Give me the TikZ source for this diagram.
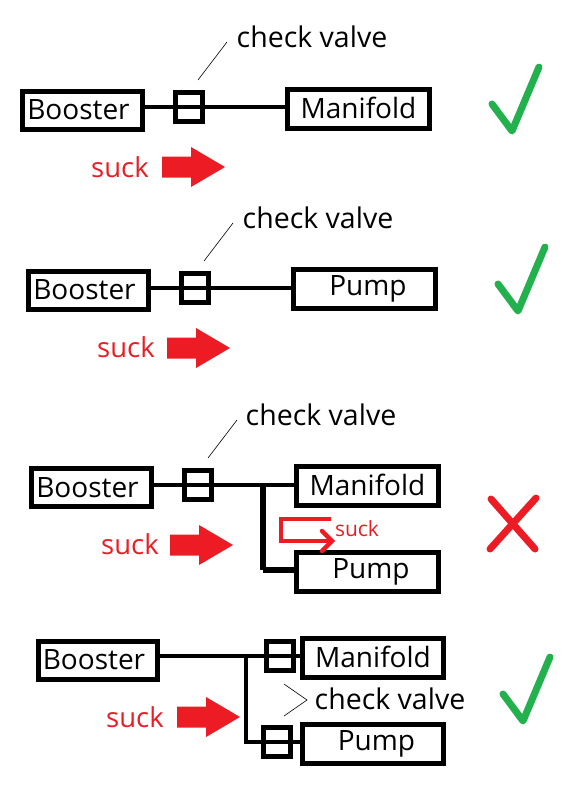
\documentclass[tikz,border=0pt]{standalone}
\usepackage{fontspec}
\setmainfont{Open Sans}
\definecolor{rd}{RGB}{237,28,36}
\definecolor{gn}{RGB}{34,177,76}
\tikzset{
 x=1pt,y=-1pt,
 boxn/.style={draw=black,line width=5pt,inner sep=0pt,font=\fontsize{28}{28}\selectfont},
 valven/.style={draw=black,line width=5pt,inner sep=0pt,minimum width=27pt,minimum height=29pt},
 pipe/.style={draw=black,line width=4.5pt},
 thin leader/.style={draw=black,line width=0.6pt},
 lab/.style={inner sep=0pt,font=\fontsize{28.5}{28.5}\selectfont},
 sucklab/.style={inner sep=0pt,text=rd,font=\fontsize{27.5}{27.5}\selectfont},
 bigarrow/.style={fill=rd,draw=none},
 tick/.style={draw=gn,line width=7pt,line cap=round,line join=round},
 cross/.style={draw=rd,line width=7pt,line cap=round},
}
\newcommand{\bx}[6]{\node[boxn,minimum width=#4 pt-3.5pt,minimum height=#5 pt-4pt] (#1) at (#2,#3) {\raisebox{1pt}{#6}};}
\newcommand{\arr}[2]{\fill[bigarrow] (#1,#2-10.5) -- (#1+29,#2-10.5) -- (#1+29,#2-20) -- (#1+63,#2) -- (#1+29,#2+20) -- (#1+29,#2+10.5) -- (#1,#2+10.5) -- cycle;}
\newcommand{\tk}[2]{\draw[tick] (#1,#2) -- (#1+20,#2+27) -- (#1+47,#2-37);}
\newcommand{\bst}{Booster\hspace*{8pt}}
\newcommand{\pmp}{\hspace*{7pt}Pump}
\begin{document}
\begin{tikzpicture}
\useasboundingbox (0,0) rectangle (574,798);
% panel 1
\bx{b1}{82.5}{110}{123}{42}{\bst}
\node[valven] (v1) at (188.5,107) {};
\bx{m1}{358.5}{108.5}{145}{43}{Manifold}
\draw[pipe] (b1.east |- v1.center) -- (m1.west |- v1.center);
\node[lab] (t1) at (312,37) {check valve};
\coordinate (l1) at (198,80);
\draw[thin leader] (l1) -- (227,42);
\node[sucklab] (s1) at (120,167) {suck};
\arr{162}{167}
\tk{492}{104}
% panel 2
\bx{b2}{88.5}{290.5}{123}{42}{\bst}
\node[valven] (v2) at (194.5,288) {};
\bx{p2}{364.5}{288.5}{145}{43}{\pmp}
\draw[pipe] (b2.east |- v2.center) -- (p2.west |- v2.center);
\node[lab] (t2) at (318,218) {check valve};
\coordinate (l2) at (204,261);
\draw[thin leader] (l2) -- (233,223);
\node[sucklab] (s2) at (126,347) {suck};
\arr{167}{348}
\tk{498}{284}
% panel 3
\bx{b3}{91.5}{487.5}{123}{42}{\bst}
\node[valven] (v3) at (197.5,485) {};
\bx{m3}{367.5}{485.5}{145}{43}{Manifold}
\bx{p3}{367.5}{571.5}{145}{43}{\pmp}
\draw[pipe] (b3.east |- v3.center) -- (m3.west |- v3.center);
\coordinate (j3) at (263,485);
\coordinate (k3) at (263,570);
\draw[draw=black,line width=6pt] (j3) -- (k3);
\draw[draw=black,line width=6pt] (k3) -- (p3.west |- k3);
\node[lab] (t3) at (321,415) {check valve};
\coordinate (l3) at (208,458);
\draw[thin leader] (l3) -- (237,420);
\node[sucklab] (s3) at (130,544) {suck};
\arr{170}{545}
\draw[draw=rd,line width=4.5pt,line join=miter] (331,519) -- (281,519) -- (281,541) -- (331,541);
\draw[draw=rd,line width=4.5pt,line cap=round] (322,531) -- (332,541) -- (322,551);
\node[sucklab,font=\fontsize{21}{21}\selectfont] (s3b) at (357,529) {suck};
\draw[cross] (536,498) -- (490,549);
\draw[cross] (491,499) -- (535,549);
% panel 4
\bx{b4}{98}{660}{123}{42}{\bst}
\node[valven] (v4a) at (279.5,656) {};
\node[valven] (v4b) at (276.5,742) {};
\bx{m4}{373}{657.5}{145}{43}{Manifold}
\bx{p4}{373}{744}{145}{43}{\pmp}
\draw[pipe] (b4.east |- v4a.center) -- (m4.west |- v4a.center);
\coordinate (j4) at (246,654);
\coordinate (k4) at (246,742);
\draw[pipe] (j4) -- (k4) -- (p4.west |- k4);
\node[lab] (t4) at (390,699) {check valve};
\coordinate (l4) at (284,684);
\coordinate (l5) at (284,716);
\draw[thin leader] (l4) -- (307,700) -- (l5);
\node[sucklab] (s4) at (135,717) {suck};
\arr{177}{717}
\tk{503}{694}
\end{tikzpicture}
\end{document}
